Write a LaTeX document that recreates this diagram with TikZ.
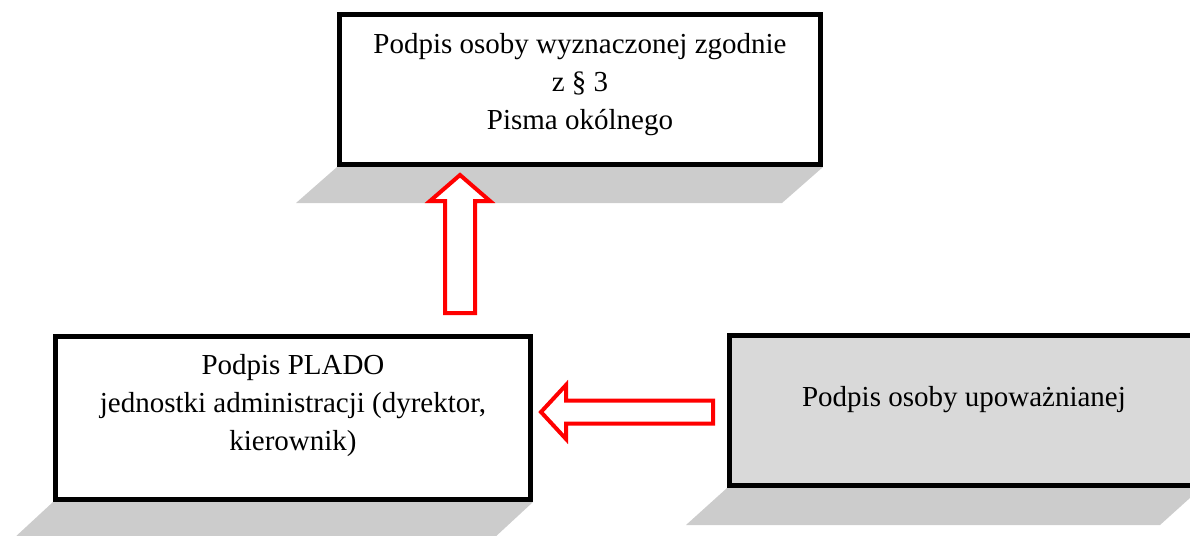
\documentclass[tikz,border=0pt]{standalone}
\usepackage{fontspec}
\setmainfont{Liberation Serif}
\usetikzlibrary{calc}

\begin{document}
\begin{tikzpicture}[
  x=1pt, y=-1pt,
  box/.style={
    rectangle, draw=black, line width=5pt, fill=white, inner sep=0pt
  },
  greybox/.style={box, fill=black!15},
  shade/.style={fill=black!20, draw=none},
  txt/.style={align=center, font=\fontsize{29}{38}\selectfont, inner sep=0pt},
  hollow/.style={draw=red, line width=4pt, fill=white, line join=miter},
]
\clip (0,0) rectangle (1190,535);

% ── Boxes ──
\node[box, minimum width=481pt, minimum height=150pt] (sign3) at (580,89.5) {};
\node[box, minimum width=475pt, minimum height=163pt] (plado) at (293,418) {};
\node[greybox, minimum width=469pt, minimum height=150pt] (auth) at (964,410.5) {};

% ── Texts ──
\node[txt] (sign3txt) at ($(sign3.center)+(0,-4.5)$)
  {Podpis osoby wyznaczonej zgodnie\\z \S\ 3\\Pisma okólnego};
\node[txt] (pladotxt) at ($(plado.center)+(0,-12)$)
  {Podpis PLADO\\jednostki administracji (dyrektor,\\kierownik)};
\node[txt] (authtxt) at ($(auth.center)+(0,-10.5)$)
  {Podpis osoby upoważnianej};

% ── Shadows ──
\fill[shade] (sign3.south west) -- (sign3.south east) -- ++(-41,36)
  -- ($(sign3.south west)+(-41,36)$) -- cycle;
\fill[shade] (plado.south west) -- (plado.south east) -- ++(-40,37)
  -- ($(plado.south west)+(-40,37)$) -- cycle;
\fill[shade] (auth.south west) -- (auth.south east) -- ++(-41,37)
  -- ($(auth.south west)+(-41,37)$) -- cycle;

% ── Arrows ──
\coordinate (upfoot) at (460,313);
\coordinate (lefttail) at (713,412);
\draw[hollow] (upfoot) -- ++(-15,0) -- ++(0,-112) -- ++(-15,0) -- ++(30,-26)
  -- ++(30,26) -- ++(-15,0) -- ++(0,112) -- cycle;
\draw[hollow] (lefttail) -- ++(0,-11.5) -- ++(-147,0) -- ++(0,-15.5) -- ++(-25,27)
  -- ++(25,27) -- ++(0,-15.5) -- ++(147,0) -- cycle;
\end{tikzpicture}
\end{document}
